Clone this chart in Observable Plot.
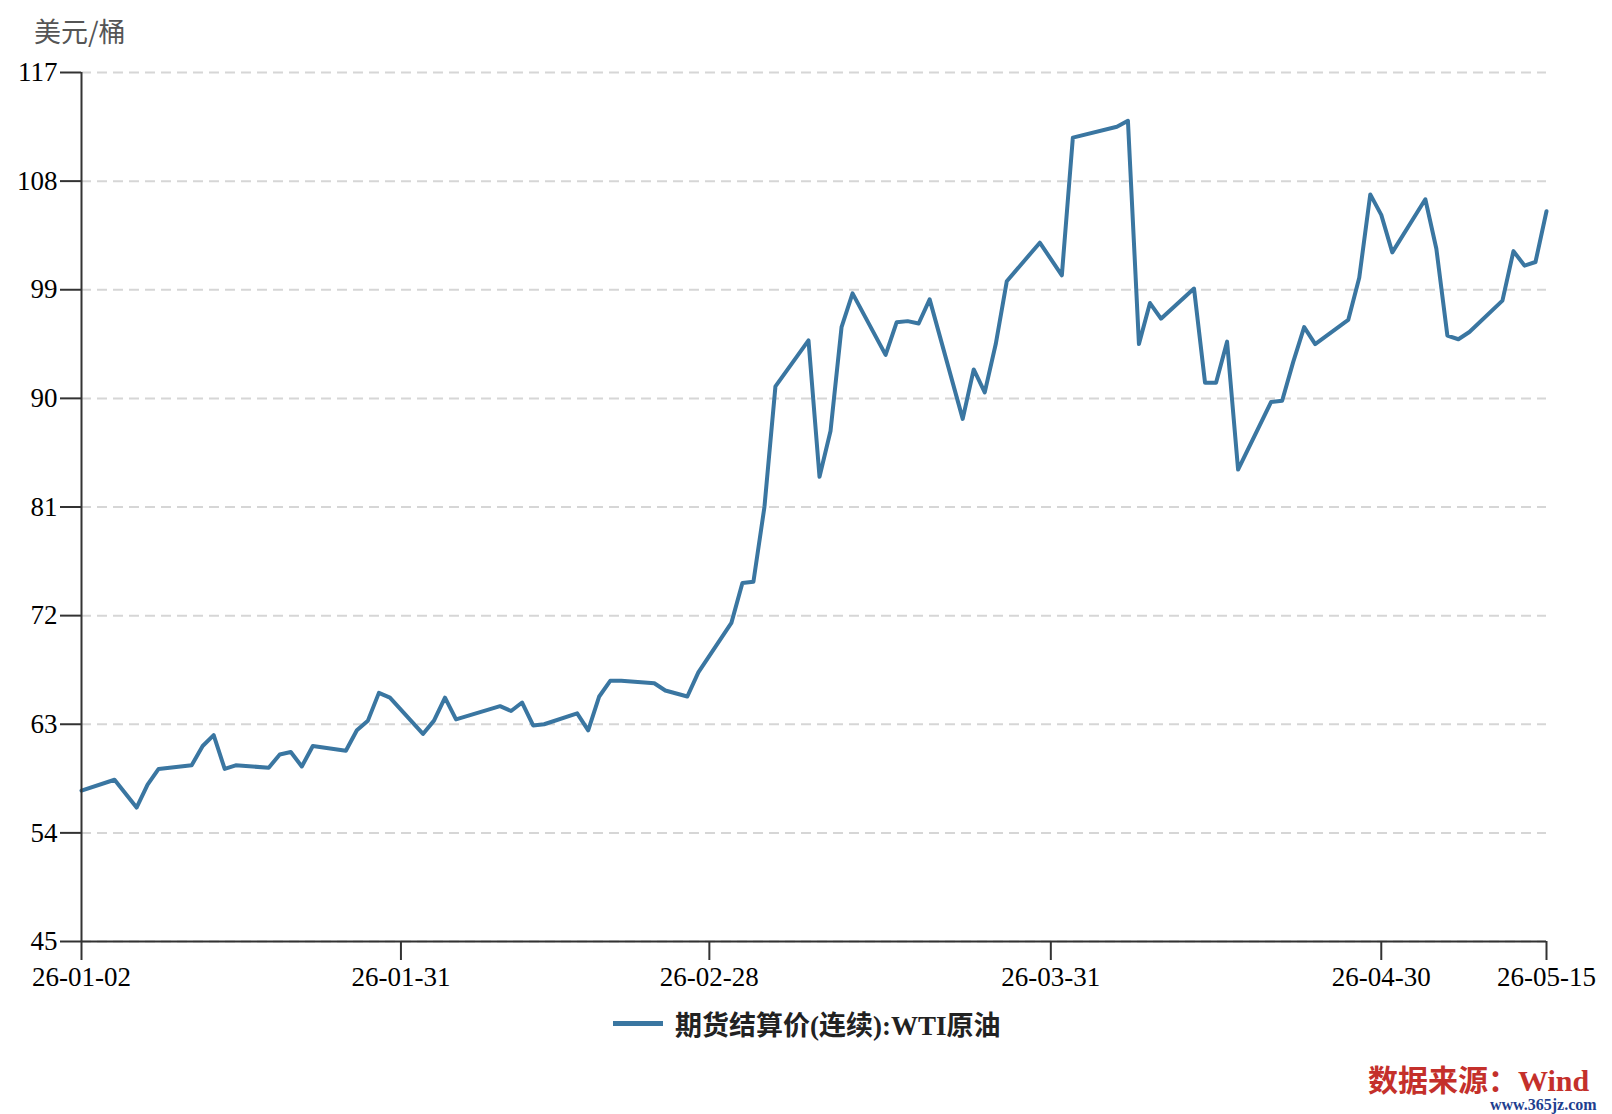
<!DOCTYPE html>
<html>
<head>
<meta charset="utf-8">
<script src="https://cdn.jsdelivr.net/npm/d3@7"></script>
<script src="https://cdn.jsdelivr.net/npm/@observablehq/plot@0.6"></script>
<style>
  body { margin: 0; background: #fff; }
  #wrap { position: relative; width: 1612px; height: 1114px; background: #fff; overflow: hidden; }
  #ylabel { position: absolute; left: 34px; top: 17px; font: 27px "Noto Sans CJK SC", sans-serif; color: #555; line-height: 1; }
  #legend { position: absolute; left: 613px; top: 1004px; display: flex; align-items: center; line-height: 1; }
  #legend .sw { width: 50px; height: 5px; margin-right: 12px; }
  #legend .tx { font: 600 27px "Liberation Serif", "Noto Sans CJK SC", serif; color: #222; }
  #src { position: absolute; left: 1368px; top: 1066px; font: bold 30px "Liberation Serif", "Noto Sans CJK SC", serif; color: #c4302b; line-height: 1; }
  #site { position: absolute; left: 1490px; top: 1097px; font: bold 16px "Liberation Serif", serif; color: #1f3f8f; line-height: 1; }
</style>
</head>
<body>
<div id="wrap">
  <div id="ylabel"></div>
  <div id="chart"></div>
  <div id="legend"><div class="sw"></div><div class="tx"></div></div>
  <div id="src">数据来源：Wind</div>
  <div id="site">www.365jz.com</div>
</div>
<script>
// ---- data ----
const dates = [
  "2026-01-02","2026-01-05","2026-01-07","2026-01-08","2026-01-09",
  "2026-01-12","2026-01-13","2026-01-14","2026-01-15","2026-01-16",
  "2026-01-19","2026-01-20","2026-01-21","2026-01-22","2026-01-23",
  "2026-01-26","2026-01-27","2026-01-28","2026-01-29","2026-01-30",
  "2026-02-02","2026-02-03","2026-02-04","2026-02-05",
  "2026-02-09","2026-02-10","2026-02-11","2026-02-12","2026-02-13",
  "2026-02-16","2026-02-17","2026-02-18","2026-02-19","2026-02-20",
  "2026-02-23","2026-02-24","2026-02-26","2026-02-27",
  "2026-03-02","2026-03-03","2026-03-04","2026-03-05","2026-03-06",
  "2026-03-09","2026-03-10","2026-03-11","2026-03-12","2026-03-13",
  "2026-03-16","2026-03-17","2026-03-18","2026-03-19","2026-03-20",
  "2026-03-23","2026-03-24","2026-03-25","2026-03-26","2026-03-27",
  "2026-03-30","2026-04-01","2026-04-02",
  "2026-04-06","2026-04-07","2026-04-08","2026-04-09","2026-04-10",
  "2026-04-13","2026-04-14","2026-04-15","2026-04-16","2026-04-17",
  "2026-04-20","2026-04-21","2026-04-22","2026-04-23","2026-04-24",
  "2026-04-27","2026-04-28","2026-04-29","2026-04-30","2026-05-01",
  "2026-05-04","2026-05-05","2026-05-06","2026-05-07","2026-05-08",
  "2026-05-11","2026-05-12","2026-05-13","2026-05-14","2026-05-15"
];
const wtiValues = [
  57.5, 58.4, 56.1, 58.0, 59.3,
  59.6, 61.2, 62.1, 59.3, 59.6,
  59.4, 60.5, 60.7, 59.5, 61.2,
  60.8, 62.5, 63.3, 65.6, 65.2,
  62.2, 63.3, 65.2, 63.4,
  64.5, 64.1, 64.8, 62.9, 63.0,
  63.9, 62.5, 65.3, 66.6, 66.6,
  66.4, 65.8, 65.3, 67.3,
  71.4, 74.7, 74.8, 81.0, 91.0,
  94.8, 83.5, 87.3, 95.9, 98.7,
  93.6, 96.3, 96.4, 96.2, 98.2,
  88.3, 92.4, 90.5, 94.5, 99.7,
  102.9, 100.2, 111.6,
  112.5, 113.0, 94.5, 97.9, 96.6,
  99.1, 91.3, 91.3, 94.7, 84.1,
  89.7, 89.8, 93.0, 95.9, 94.5,
  96.5, 100.0, 106.9, 105.2, 102.1,
  106.5, 102.4, 95.2, 94.9, 95.5,
  98.1, 102.2, 101.0, 101.3, 105.5
];
const yTicks = [45, 54, 63, 72, 81, 90, 99, 108, 117];
const xTickDates = ["2026-01-02","2026-01-31","2026-02-28","2026-03-31","2026-04-30","2026-05-15"];
const seriesName = "期货结算价(连续):WTI原油";
const unitLabel = "美元/桶";
const lineColor = "#3a76a1";

// ---- build ----
const parse = d3.utcParse("%Y-%m-%d");
const data = dates.map((d, i) => ({date: parse(d), value: wtiValues[i]}));
const xTicks = xTickDates.map(parse);
const xStart = xTicks[0], xEnd = xTicks[xTicks.length - 1];

document.getElementById("ylabel").textContent = unitLabel;
document.querySelector("#legend .sw").style.background = lineColor;
document.querySelector("#legend .tx").textContent = seriesName;

const chart = Plot.plot({
  width: 1612,
  height: 1000,
  marginLeft: 81,
  marginRight: 66,
  marginTop: 72,
  marginBottom: 59,
  style: {fontFamily: "'Liberation Serif', 'Times New Roman', serif", fontSize: "27px", color: "#000", background: "transparent", overflow: "visible"},
  x: {type: "utc", domain: [xStart, xEnd]},
  y: {domain: [45, 117]},
  marks: [
    Plot.gridY(yTicks, {stroke: "#d6d6d6", strokeOpacity: 1, strokeWidth: 2, strokeDasharray: "10,6"}),
    Plot.line(data, {x: "date", y: "value", stroke: lineColor, strokeWidth: 4}),
    Plot.ruleX([xStart], {stroke: "#333", strokeWidth: 2}),
    Plot.ruleY([45], {stroke: "#333", strokeWidth: 2}),
    Plot.axisY({ticks: yTicks, tickSize: 21, tickPadding: 3, label: null, stroke: "#333", strokeWidth: 2, tickFormat: d => String(d)}),
    Plot.axisX({ticks: xTicks, tickSize: 19, tickPadding: 6, label: null, stroke: "#333", strokeWidth: 2, tickFormat: d3.utcFormat("%y-%m-%d")})
  ]
});
document.getElementById("chart").appendChild(chart);
</script>
</body>
</html>
